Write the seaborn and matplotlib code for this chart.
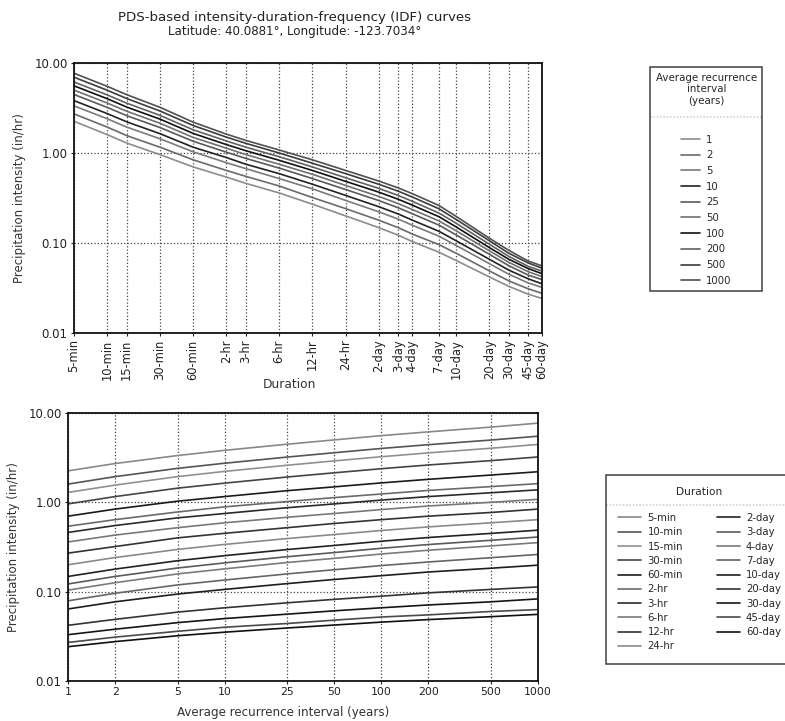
import matplotlib
matplotlib.use("Agg")
import matplotlib.pyplot as plt
import seaborn as sns
import pandas as pd
from matplotlib.lines import Line2D

# durations (label + minutes) and recurrence intervals
dur_labels = ["5-min", "10-min", "15-min", "30-min", "60-min", "2-hr", "3-hr", "6-hr",
              "12-hr", "24-hr", "2-day", "3-day", "4-day", "7-day", "10-day", "20-day",
              "30-day", "45-day", "60-day"]
dur_minutes = [5, 10, 15, 30, 60, 120, 180, 360, 720, 1440, 2880, 4320, 5760, 10080,
               14400, 28800, 43200, 64800, 86400]
aris = [1, 2, 5, 10, 25, 50, 100, 200, 500, 1000]

# precipitation intensity (in/hr), one row per duration, one column per ARI
intensity = [
    [2.25, 2.72, 3.34, 3.82, 4.47, 5.00, 5.58, 6.15, 6.95, 7.70],
    [1.60, 1.94, 2.40, 2.74, 3.21, 3.59, 4.01, 4.42, 4.98, 5.50],
    [1.29, 1.56, 1.94, 2.22, 2.60, 2.91, 3.24, 3.58, 4.03, 4.45],
    [0.96, 1.16, 1.44, 1.64, 1.92, 2.14, 2.38, 2.62, 2.93, 3.22],
    [0.70, 0.84, 1.03, 1.16, 1.35, 1.49, 1.65, 1.81, 2.02, 2.20],
    [0.54, 0.64, 0.78, 0.89, 1.02, 1.13, 1.24, 1.36, 1.50, 1.62],
    [0.46, 0.55, 0.67, 0.75, 0.87, 0.96, 1.06, 1.16, 1.28, 1.38],
    [0.36, 0.43, 0.52, 0.59, 0.68, 0.75, 0.83, 0.91, 1.00, 1.08],
    [0.27, 0.32, 0.40, 0.45, 0.52, 0.58, 0.64, 0.70, 0.77, 0.84],
    [0.200, 0.241, 0.297, 0.338, 0.393, 0.436, 0.484, 0.531, 0.590, 0.640],
    [0.148, 0.179, 0.222, 0.253, 0.296, 0.329, 0.367, 0.404, 0.449, 0.488],
    [0.122, 0.148, 0.184, 0.210, 0.246, 0.274, 0.306, 0.337, 0.376, 0.409],
    [0.104, 0.126, 0.158, 0.180, 0.212, 0.236, 0.264, 0.291, 0.325, 0.354],
    [0.079, 0.096, 0.119, 0.135, 0.158, 0.176, 0.196, 0.215, 0.240, 0.261],
    [0.064, 0.077, 0.094, 0.106, 0.123, 0.137, 0.151, 0.166, 0.183, 0.198],
    [0.042, 0.049, 0.059, 0.066, 0.075, 0.082, 0.089, 0.097, 0.106, 0.113],
    [0.033, 0.038, 0.045, 0.050, 0.056, 0.061, 0.066, 0.071, 0.077, 0.083],
    [0.027, 0.031, 0.036, 0.040, 0.044, 0.048, 0.052, 0.055, 0.060, 0.063],
    [0.0242, 0.0276, 0.0321, 0.0352, 0.0392, 0.0423, 0.0456, 0.0487, 0.0525, 0.0557],
]

ari_labels = [str(a) for a in aris]
ari_grays = ["#8c8c8c", "#6a6a6a", "#7a7a7a", "#222222", "#5a5a5a",
             "#707070", "#111111", "#606060", "#3c3c3c", "#505050"]
dur_grays = ["#888888", "#555555", "#909090", "#444444", "#1a1a1a", "#6a6a6a",
             "#2a2a2a", "#787878", "#333333", "#8a8a8a", "#222222", "#5a5a5a",
             "#7a7a7a", "#666666", "#1e1e1e", "#333333", "#151515", "#4a4a4a", "#101010"]

rows = []
for i, lab in enumerate(dur_labels):
    for j, a in enumerate(aris):
        rows.append({"duration": lab, "minutes": dur_minutes[i], "ari": a,
                     "ari_label": ari_labels[j], "intensity": intensity[i][j]})
df = pd.DataFrame(rows)

sns.set_style("white")
plt.rcParams["font.family"] = ["DejaVu Sans"]

fig = plt.figure(figsize=(7.85, 7.21), dpi=100)
ax1 = fig.add_axes([74 / 785, 1 - 333 / 721, 468 / 785, 270 / 721])
ax2 = fig.add_axes([68 / 785, 1 - 681 / 721, 470 / 785, 268 / 721])

sns.lineplot(data=df, x="minutes", y="intensity", hue="ari_label", hue_order=ari_labels,
             palette=dict(zip(ari_labels, ari_grays)), linewidth=1.2, ax=ax1)
sns.lineplot(data=df, x="ari", y="intensity", hue="duration", hue_order=dur_labels,
             palette=dict(zip(dur_labels, dur_grays)), linewidth=1.2, ax=ax2)

ytick_vals = [0.01, 0.1, 1, 10]
ytick_labs = ["0.01", "0.10", "1.00", "10.00"]
for ax in (ax1, ax2):
    ax.set_xscale("log")
    ax.set_yscale("log")
    ax.set_ylim(0.01, 10)
    ax.set_yticks(ytick_vals)
    ax.set_yticklabels(ytick_labs)
    ax.minorticks_off()
    ax.grid(True, linestyle=":", color="#444444", linewidth=0.9)
    ax.tick_params(axis="both", direction="out", length=2.5, width=0.8, pad=2,
                   colors="#222222", bottom=True, left=True)
    ax.tick_params(axis="y", labelsize=8.5)
    for s in ax.spines.values():
        s.set_color("#111111")
        s.set_linewidth(1.3)
    ax.set_ylabel("Precipitation intensity (in/hr)", fontsize=8.5, color="#333333",
                  labelpad=6)

ax1.set_xlim(5, 86400)
ax1.set_xticks(dur_minutes)
ax1.set_xticklabels(dur_labels, rotation=90)
ax1.tick_params(axis="x", labelsize=8.3)
ax1.set_xlabel("Duration", fontsize=8.8, color="#333333", labelpad=3)
ax1.xaxis.set_label_coords(0.46, -0.165)
ax1.minorticks_off()

ax2.set_xlim(1, 1000)
ax2.set_xticks(aris)
ax2.set_xticklabels(ari_labels)
ax2.tick_params(axis="x", labelsize=7.8)
ax2.set_xlabel("Average recurrence interval (years)", fontsize=8.6, color="#333333")
ax2.xaxis.set_label_coords(0.457, -0.095)
ax2.minorticks_off()

h1, l1 = ax1.get_legend_handles_labels()
h2, l2 = ax2.get_legend_handles_labels()
ax1.get_legend().remove()
ax2.get_legend().remove()

leg1 = fig.legend(h1, l1, title="Average recurrence\ninterval\n(years)\n\n", loc="upper left",
                  bbox_to_anchor=(650 / 785, 1 - 67 / 721), borderaxespad=0,
                  fontsize=7.3, title_fontsize=7.4, frameon=True, fancybox=False,
                  edgecolor="#111111", handlelength=1.9, handletextpad=0.6,
                  labelspacing=0.56, borderpad=0.55)
leg1.get_frame().set_linewidth(1.1)
leg1.get_title().set_multialignment("center")

leg2 = fig.legend(h2, l2, title="Duration\n", loc="upper left", ncol=2,
                  bbox_to_anchor=(606 / 785, 1 - 475 / 721), borderaxespad=0,
                  fontsize=7.3, title_fontsize=7.6, frameon=True, fancybox=False,
                  edgecolor="#111111", handlelength=2.3, handletextpad=0.6,
                  labelspacing=0.42, columnspacing=3.3, borderpad=1.2)
leg2.get_frame().set_linewidth(1.1)

# dotted separators below the legend titles
fig.canvas.draw()
inv = fig.transFigure.inverted()
for leg, off in ((leg1, 12), (leg2, 4)):
    fb = leg.get_frame().get_window_extent()
    tb = leg.get_title().get_window_extent()
    (x0, y0), (x1, _) = inv.transform([[fb.x0, tb.y0 + off], [fb.x1, tb.y0 + off]])
    fig.add_artist(Line2D([x0, x1], [y0, y0], color="#222222", linestyle=(0, (1, 1)),
                          linewidth=1.2))

fig.text(295 / 785, 1 - 17 / 721, "PDS-based intensity-duration-frequency (IDF) curves",
         ha="center", va="center", fontsize=9.6, color="#222222")
fig.text(295 / 785, 1 - 31 / 721, "Latitude: 40.0881°, Longitude: -123.7034°",
         ha="center", va="center", fontsize=8.6, color="#222222")

fig.savefig("out.png", dpi=100)
plt.close(fig)
print("Saved out.png")
